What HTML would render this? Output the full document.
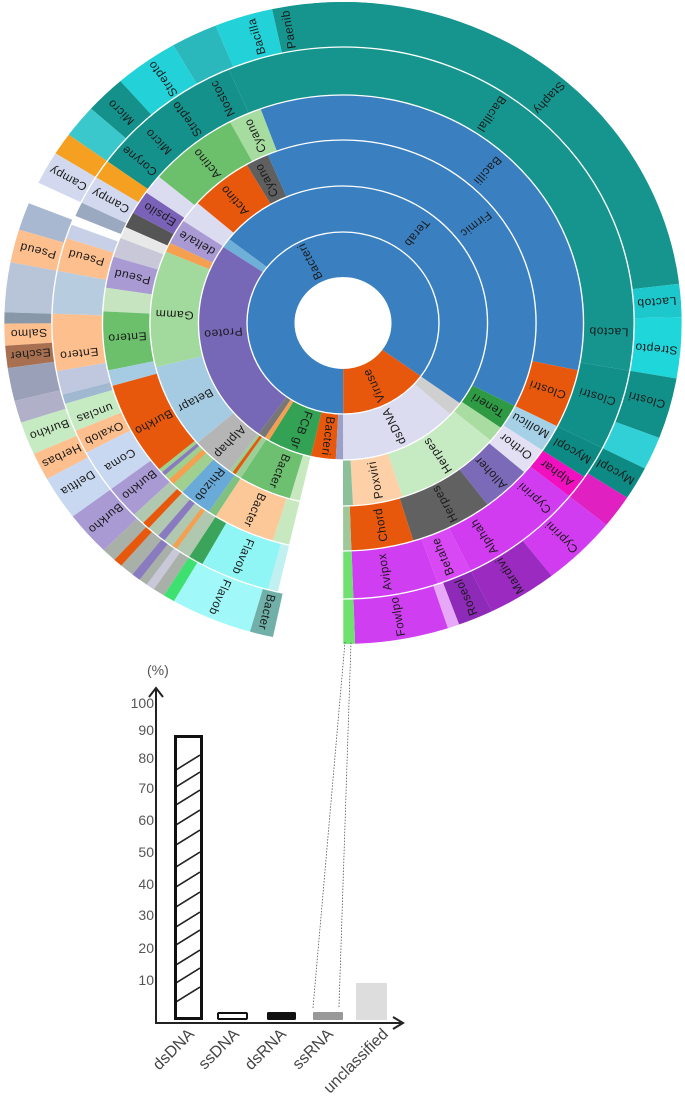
<!DOCTYPE html>
<html><head><meta charset="utf-8"><style>
html,body{margin:0;padding:0;background:#fff;}
svg{display:block;}
circle{fill:none;}
.l{font-family:"Liberation Sans",sans-serif;font-size:11.5px;fill:#1a1a1a;text-anchor:middle;dominant-baseline:central;letter-spacing:0.5px;}
.t{font-family:"Liberation Sans",sans-serif;font-size:14px;fill:#555;}
.x{font-family:"Liberation Sans",sans-serif;font-size:16px;fill:#444;text-anchor:end;}
</style></head><body>
<svg width="685" height="1099" viewBox="0 0 685 1099" xmlns="http://www.w3.org/2000/svg">
<g transform="translate(343,323) scale(1.055,1) rotate(-90)">
<!-- ring0 -->
<g stroke-width="45">
<circle r="68.5" pathLength="360" stroke="#3a80c0" stroke-dasharray="180 1000" stroke-dashoffset="-180"/>
<circle r="68.5" pathLength="360" stroke="#3a80c0" stroke-dasharray="126 1000" stroke-dashoffset="0"/>
<circle r="68.5" pathLength="360" stroke="#e8580c" stroke-dasharray="54 1000" stroke-dashoffset="-126"/>
</g>
<!-- ring1 -->
<g stroke-width="46">
<circle r="114" pathLength="360" stroke="#3a80c0" stroke-dasharray="52 1000" stroke-dashoffset="-308"/>
<circle r="114" pathLength="360" stroke="#3a80c0" stroke-dasharray="126 1000" stroke-dashoffset="0"/>
<circle r="114" pathLength="360" stroke="#6fb0d8" stroke-dasharray="4 1000" stroke-dashoffset="-304"/>
<circle r="114" pathLength="360" stroke="#7767b7" stroke-dasharray="88 1000" stroke-dashoffset="-216"/>
<circle r="114" pathLength="360" stroke="#777" stroke-dasharray="3 1000" stroke-dashoffset="-213"/>
<circle r="114" pathLength="360" stroke="#f4a050" stroke-dasharray="2 1000" stroke-dashoffset="-211"/>
<circle r="114" pathLength="360" stroke="#33a254" stroke-dasharray="18 1000" stroke-dashoffset="-193"/>
<circle r="114" pathLength="360" stroke="#e8580c" stroke-dasharray="10 1000" stroke-dashoffset="-183"/>
<circle r="114" pathLength="360" stroke="#9aa0c8" stroke-dasharray="3 1000" stroke-dashoffset="-180"/>
<circle r="114" pathLength="360" stroke="#dcdcf0" stroke-dasharray="48 1000" stroke-dashoffset="-132"/>
<circle r="114" pathLength="360" stroke="#cfcfcf" stroke-dasharray="6 1000" stroke-dashoffset="-126"/>
</g>
<!-- ring2 -->
<g stroke-width="46">
<circle r="160" pathLength="360" stroke="#3a80c0" stroke-dasharray="23 1000" stroke-dashoffset="-337"/>
<circle r="160" pathLength="360" stroke="#3a80c0" stroke-dasharray="117 1000" stroke-dashoffset="0"/>
<circle r="160" pathLength="360" stroke="#2e9a44" stroke-dasharray="8 1000" stroke-dashoffset="-117"/>
<circle r="160" pathLength="360" stroke="#a8dca0" stroke-dasharray="5 1000" stroke-dashoffset="-125"/>
<circle r="160" pathLength="360" stroke="#c6eac2" stroke-dasharray="32 1000" stroke-dashoffset="-130"/>
<circle r="160" pathLength="360" stroke="#fdd0a8" stroke-dasharray="15 1000" stroke-dashoffset="-162"/>
<circle r="160" pathLength="360" stroke="#8cc09a" stroke-dasharray="3 1000" stroke-dashoffset="-177"/>
<circle r="160" pathLength="360" stroke="#5f5f5f" stroke-dasharray="7 1000" stroke-dashoffset="-330"/>
<circle r="160" pathLength="360" stroke="#e8580c" stroke-dasharray="19 1000" stroke-dashoffset="-311"/>
<circle r="160" pathLength="360" stroke="#dcdcf0" stroke-dasharray="7 1000" stroke-dashoffset="-304"/>
<circle r="160" pathLength="360" stroke="#a99ad4" stroke-dasharray="8 1000" stroke-dashoffset="-296"/>
<circle r="160" pathLength="360" stroke="#f4a050" stroke-dasharray="3 1000" stroke-dashoffset="-293"/>
<circle r="160" pathLength="360" stroke="#a2d99c" stroke-dasharray="37 1000" stroke-dashoffset="-256"/>
<circle r="160" pathLength="360" stroke="#a5cbe3" stroke-dasharray="27 1000" stroke-dashoffset="-229"/>
<circle r="160" pathLength="360" stroke="#b5b5b5" stroke-dasharray="13 1000" stroke-dashoffset="-216"/>
<circle r="160" pathLength="360" stroke="#9ccf98" stroke-dasharray="4 1000" stroke-dashoffset="-212"/>
<circle r="160" pathLength="360" stroke="#e8580c" stroke-dasharray="1 1000" stroke-dashoffset="-214"/>
<circle r="160" pathLength="360" stroke="#6cc070" stroke-dasharray="16 1000" stroke-dashoffset="-196"/>
<circle r="160" pathLength="360" stroke="#c8e8c0" stroke-dasharray="3 1000" stroke-dashoffset="-193"/>
</g>
<!-- ring3 -->
<g stroke-width="45">
<circle r="205.5" pathLength="360" stroke="#3a80c0" stroke-dasharray="20 1000" stroke-dashoffset="-340"/>
<circle r="205.5" pathLength="360" stroke="#3a80c0" stroke-dasharray="102 1000" stroke-dashoffset="0"/>
<circle r="205.5" pathLength="360" stroke="#e8580c" stroke-dasharray="15 1000" stroke-dashoffset="-102"/>
<circle r="205.5" pathLength="360" stroke="#a6d0e6" stroke-dasharray="7 1000" stroke-dashoffset="-117"/>
<circle r="205.5" pathLength="360" stroke="#e4e0f4" stroke-dasharray="7 1000" stroke-dashoffset="-124"/>
<circle r="205.5" pathLength="360" stroke="#7a6ab8" stroke-dasharray="12 1000" stroke-dashoffset="-131"/>
<circle r="205.5" pathLength="360" stroke="#616161" stroke-dasharray="20 1000" stroke-dashoffset="-143"/>
<circle r="205.5" pathLength="360" stroke="#e8580c" stroke-dasharray="15 1000" stroke-dashoffset="-163"/>
<circle r="205.5" pathLength="360" stroke="#9ec89a" stroke-dasharray="2 1000" stroke-dashoffset="-178"/>
<circle r="205.5" pathLength="360" stroke="#a6dca0" stroke-dasharray="8 1000" stroke-dashoffset="-332"/>
<circle r="205.5" pathLength="360" stroke="#6cc06c" stroke-dasharray="22 1000" stroke-dashoffset="-310"/>
<circle r="205.5" pathLength="360" stroke="#dcdcf0" stroke-dasharray="5 1000" stroke-dashoffset="-305"/>
<circle r="205.5" pathLength="360" stroke="#7a62b8" stroke-dasharray="6 1000" stroke-dashoffset="-299"/>
<circle r="205.5" pathLength="360" stroke="#555" stroke-dasharray="4 1000" stroke-dashoffset="-295"/>
<circle r="205.5" pathLength="360" stroke="#e8e8e8" stroke-dasharray="3 1000" stroke-dashoffset="-292"/>
<circle r="205.5" pathLength="360" stroke="#c8c8d8" stroke-dasharray="5 1000" stroke-dashoffset="-287"/>
<circle r="205.5" pathLength="360" stroke="#a99ad4" stroke-dasharray="8 1000" stroke-dashoffset="-279"/>
<circle r="205.5" pathLength="360" stroke="#c6e4c0" stroke-dasharray="6 1000" stroke-dashoffset="-273"/>
<circle r="205.5" pathLength="360" stroke="#6cc06c" stroke-dasharray="15 1000" stroke-dashoffset="-258"/>
<circle r="205.5" pathLength="360" stroke="#a6cce4" stroke-dasharray="4 1000" stroke-dashoffset="-254"/>
<circle r="205.5" pathLength="360" stroke="#e8580c" stroke-dasharray="24 1000" stroke-dashoffset="-230"/>
<circle r="205.5" pathLength="360" stroke="#a0d090" stroke-dasharray="8 1000" stroke-dashoffset="-222"/>
<circle r="205.5" pathLength="360" stroke="#f4a050" stroke-dasharray="1.5 1000" stroke-dashoffset="-225"/>
<circle r="205.5" pathLength="360" stroke="#8a7ac0" stroke-dasharray="1 1000" stroke-dashoffset="-228"/>
<circle r="205.5" pathLength="360" stroke="#6aaad8" stroke-dasharray="8 1000" stroke-dashoffset="-214"/>
<circle r="205.5" pathLength="360" stroke="#80c080" stroke-dasharray="2 1000" stroke-dashoffset="-212"/>
<circle r="205.5" pathLength="360" stroke="#fdc898" stroke-dasharray="15 1000" stroke-dashoffset="-197"/>
<circle r="205.5" pathLength="360" stroke="#c8e8c0" stroke-dasharray="4 1000" stroke-dashoffset="-193"/>
</g>
<!-- ring4 -->
<g stroke-width="48">
<circle r="252" pathLength="360" stroke="#15958e" stroke-dasharray="23 1000" stroke-dashoffset="-337"/>
<circle r="252" pathLength="360" stroke="#15958e" stroke-dasharray="100 1000" stroke-dashoffset="0"/>
<circle r="252" pathLength="360" stroke="#109088" stroke-dasharray="17 1000" stroke-dashoffset="-100"/>
<circle r="252" pathLength="360" stroke="#0e8a84" stroke-dasharray="7 1000" stroke-dashoffset="-117"/>
<circle r="252" pathLength="360" stroke="#f010c0" stroke-dasharray="5 1000" stroke-dashoffset="-124"/>
<circle r="252" pathLength="360" stroke="#d23cf0" stroke-dasharray="25 1000" stroke-dashoffset="-129"/>
<circle r="252" pathLength="360" stroke="#d848f4" stroke-dasharray="7 1000" stroke-dashoffset="-154"/>
<circle r="252" pathLength="360" stroke="#d03ef2" stroke-dasharray="17 1000" stroke-dashoffset="-161"/>
<circle r="252" pathLength="360" stroke="#70e070" stroke-dasharray="2 1000" stroke-dashoffset="-178"/>
<circle r="252" pathLength="360" stroke="#14918b" stroke-dasharray="31 1000" stroke-dashoffset="-306"/>
<circle r="252" pathLength="360" stroke="#f5a020" stroke-dasharray="4 1000" stroke-dashoffset="-302"/>
<circle r="252" pathLength="360" stroke="#d2d9ee" stroke-dasharray="6 1000" stroke-dashoffset="-296"/>
<circle r="252" pathLength="360" stroke="#9aa8c0" stroke-dasharray="3 1000" stroke-dashoffset="-293"/>
<circle r="252" pathLength="360" stroke="#c8d0e8" stroke-dasharray="3 1000" stroke-dashoffset="-288"/>
<circle r="252" pathLength="360" stroke="#fdbf8e" stroke-dasharray="7 1000" stroke-dashoffset="-281"/>
<circle r="252" pathLength="360" stroke="#b8cce0" stroke-dasharray="9 1000" stroke-dashoffset="-272"/>
<circle r="252" pathLength="360" stroke="#fdbf8e" stroke-dasharray="12 1000" stroke-dashoffset="-260"/>
<circle r="252" pathLength="360" stroke="#c0c8e0" stroke-dasharray="5 1000" stroke-dashoffset="-255"/>
<circle r="252" pathLength="360" stroke="#a0b8d0" stroke-dasharray="2 1000" stroke-dashoffset="-253"/>
<circle r="252" pathLength="360" stroke="#c6eac2" stroke-dasharray="6 1000" stroke-dashoffset="-247"/>
<circle r="252" pathLength="360" stroke="#fdbf8e" stroke-dasharray="5 1000" stroke-dashoffset="-242"/>
<circle r="252" pathLength="360" stroke="#c8d8f0" stroke-dasharray="9 1000" stroke-dashoffset="-233"/>
<circle r="252" pathLength="360" stroke="#a99ad4" stroke-dasharray="7 1000" stroke-dashoffset="-226"/>
<circle r="252" pathLength="360" stroke="#b0c8b0" stroke-dasharray="14 1000" stroke-dashoffset="-212"/>
<circle r="252" pathLength="360" stroke="#e8580c" stroke-dasharray="1.5 1000" stroke-dashoffset="-222"/>
<circle r="252" pathLength="360" stroke="#8a7ac0" stroke-dasharray="1.5 1000" stroke-dashoffset="-218"/>
<circle r="252" pathLength="360" stroke="#f4a050" stroke-dasharray="1 1000" stroke-dashoffset="-215"/>
<circle r="252" pathLength="360" stroke="#3aa55a" stroke-dasharray="3 1000" stroke-dashoffset="-209"/>
<circle r="252" pathLength="360" stroke="#8ff5f5" stroke-dasharray="14 1000" stroke-dashoffset="-195"/>
<circle r="252" pathLength="360" stroke="#c0f0f0" stroke-dasharray="2 1000" stroke-dashoffset="-193"/>
</g>
<!-- ring5 -->
<g stroke-width="45">
<circle r="298.5" pathLength="360" stroke="#15958e" stroke-dasharray="12 1000" stroke-dashoffset="-348"/>
<circle r="298.5" pathLength="360" stroke="#15958e" stroke-dasharray="83 1000" stroke-dashoffset="0"/>
<circle r="298.5" pathLength="360" stroke="#1cc8cc" stroke-dasharray="6 1000" stroke-dashoffset="-83"/>
<circle r="298.5" pathLength="360" stroke="#1fd6da" stroke-dasharray="11 1000" stroke-dashoffset="-89"/>
<circle r="298.5" pathLength="360" stroke="#109088" stroke-dasharray="11 1000" stroke-dashoffset="-100"/>
<circle r="298.5" pathLength="360" stroke="#30d0d6" stroke-dasharray="6 1000" stroke-dashoffset="-111"/>
<circle r="298.5" pathLength="360" stroke="#0e8a84" stroke-dasharray="6 1000" stroke-dashoffset="-117"/>
<circle r="298.5" pathLength="360" stroke="#e020c0" stroke-dasharray="6 1000" stroke-dashoffset="-123"/>
<circle r="298.5" pathLength="360" stroke="#d23cf0" stroke-dasharray="13 1000" stroke-dashoffset="-129"/>
<circle r="298.5" pathLength="360" stroke="#9a2ac0" stroke-dasharray="12 1000" stroke-dashoffset="-142"/>
<circle r="298.5" pathLength="360" stroke="#8e2ab8" stroke-dasharray="6 1000" stroke-dashoffset="-154"/>
<circle r="298.5" pathLength="360" stroke="#e8a8f8" stroke-dasharray="2 1000" stroke-dashoffset="-160"/>
<circle r="298.5" pathLength="360" stroke="#d03ef2" stroke-dasharray="16 1000" stroke-dashoffset="-162"/>
<circle r="298.5" pathLength="360" stroke="#70e070" stroke-dasharray="2 1000" stroke-dashoffset="-178"/>
<circle r="298.5" pathLength="360" stroke="#22d2d8" stroke-dasharray="10 1000" stroke-dashoffset="-338"/>
<circle r="298.5" pathLength="360" stroke="#2bb8bc" stroke-dasharray="8 1000" stroke-dashoffset="-330"/>
<circle r="298.5" pathLength="360" stroke="#22d2d8" stroke-dasharray="11 1000" stroke-dashoffset="-319"/>
<circle r="298.5" pathLength="360" stroke="#14918b" stroke-dasharray="7 1000" stroke-dashoffset="-312"/>
<circle r="298.5" pathLength="360" stroke="#3ac8cc" stroke-dasharray="6 1000" stroke-dashoffset="-306"/>
<circle r="298.5" pathLength="360" stroke="#f5a020" stroke-dasharray="4 1000" stroke-dashoffset="-302"/>
<circle r="298.5" pathLength="360" stroke="#d2d9ee" stroke-dasharray="6 1000" stroke-dashoffset="-296"/>
<circle r="298.5" pathLength="360" stroke="#a8b8d0" stroke-dasharray="5 1000" stroke-dashoffset="-287"/>
<circle r="298.5" pathLength="360" stroke="#fdbf8e" stroke-dasharray="6 1000" stroke-dashoffset="-281"/>
<circle r="298.5" pathLength="360" stroke="#b8c4d8" stroke-dasharray="9 1000" stroke-dashoffset="-272"/>
<circle r="298.5" pathLength="360" stroke="#8898a8" stroke-dasharray="2 1000" stroke-dashoffset="-270"/>
<circle r="298.5" pathLength="360" stroke="#fdbf8e" stroke-dasharray="4 1000" stroke-dashoffset="-266"/>
<circle r="298.5" pathLength="360" stroke="#a87050" stroke-dasharray="4 1000" stroke-dashoffset="-262"/>
<circle r="298.5" pathLength="360" stroke="#9aa0b8" stroke-dasharray="6 1000" stroke-dashoffset="-256"/>
<circle r="298.5" pathLength="360" stroke="#b0b0c8" stroke-dasharray="4 1000" stroke-dashoffset="-252"/>
<circle r="298.5" pathLength="360" stroke="#c6eac2" stroke-dasharray="6 1000" stroke-dashoffset="-246"/>
<circle r="298.5" pathLength="360" stroke="#fdbf8e" stroke-dasharray="5 1000" stroke-dashoffset="-241"/>
<circle r="298.5" pathLength="360" stroke="#c8d8f0" stroke-dasharray="8 1000" stroke-dashoffset="-233"/>
<circle r="298.5" pathLength="360" stroke="#a99ad4" stroke-dasharray="8 1000" stroke-dashoffset="-225"/>
<circle r="298.5" pathLength="360" stroke="#a8b0a8" stroke-dasharray="13 1000" stroke-dashoffset="-212"/>
<circle r="298.5" pathLength="360" stroke="#e8580c" stroke-dasharray="1.5 1000" stroke-dashoffset="-221"/>
<circle r="298.5" pathLength="360" stroke="#8a7ac0" stroke-dasharray="1.5 1000" stroke-dashoffset="-217"/>
<circle r="298.5" pathLength="360" stroke="#c8c8d8" stroke-dasharray="1.5 1000" stroke-dashoffset="-214"/>
<circle r="298.5" pathLength="360" stroke="#3ee070" stroke-dasharray="2 1000" stroke-dashoffset="-210"/>
<circle r="298.5" pathLength="360" stroke="#a0f8f8" stroke-dasharray="14 1000" stroke-dashoffset="-196"/>
<circle r="298.5" pathLength="360" stroke="#70b0a8" stroke-dasharray="4 1000" stroke-dashoffset="-192"/>
</g>
<!-- seam covers around angle 0 -->
<g transform="rotate(180)">
<circle r="68.5" stroke-width="45" pathLength="360" stroke="#3a80c0" stroke-dasharray="10 1000" stroke-dashoffset="-175"/>
<circle r="114" stroke-width="46" pathLength="360" stroke="#3a80c0" stroke-dasharray="10 1000" stroke-dashoffset="-175"/>
<circle r="160" stroke-width="46" pathLength="360" stroke="#3a80c0" stroke-dasharray="10 1000" stroke-dashoffset="-175"/>
<circle r="205.5" stroke-width="45" pathLength="360" stroke="#3a80c0" stroke-dasharray="10 1000" stroke-dashoffset="-175"/>
<circle r="252" stroke-width="48" pathLength="360" stroke="#15958e" stroke-dasharray="10 1000" stroke-dashoffset="-175"/>
<circle r="298.5" stroke-width="45" pathLength="360" stroke="#15958e" stroke-dasharray="10 1000" stroke-dashoffset="-175"/>
</g>
<g stroke="#fff" stroke-width="1.3">
<circle r="91"/><circle r="137"/><circle r="183"/><circle r="228"/><circle r="276"/>
</g>
</g>
<g transform="translate(343,323) scale(1.055,1)">
<text class="l" transform="rotate(333) translate(0,-69) rotate(-90)">Bacteri</text>
<text class="l" transform="rotate(155) translate(0,-69) rotate(90)">Viruse</text>
<text class="l" transform="rotate(38) translate(0,-114) rotate(90)">Terab</text>
<text class="l" transform="rotate(265) translate(0,-114) rotate(-90)">Proteo</text>
<text class="l" transform="rotate(200) translate(0,-114) rotate(-90)">FCB gr</text>
<text class="l" transform="rotate(187) translate(0,-114) rotate(-90)">Bacteri</text>
<text class="l" transform="rotate(155) translate(0,-114) rotate(90)">dsDNA</text>
<text class="l" transform="rotate(52) translate(0,-160) rotate(90)">Firmic</text>
<text class="l" transform="rotate(333) translate(0,-160) rotate(-90)">Cyano</text>
<text class="l" transform="rotate(320) translate(0,-160) rotate(-90)">Actino</text>
<text class="l" transform="rotate(300) translate(0,-160) rotate(-90)">delta/e</text>
<text class="l" transform="rotate(273) translate(0,-160) rotate(-90)">Gamm</text>
<text class="l" transform="rotate(241) translate(0,-160) rotate(-90)">Betapr</text>
<text class="l" transform="rotate(222) translate(0,-160) rotate(-90)">Alphap</text>
<text class="l" transform="rotate(202) translate(0,-160) rotate(-90)">Bacter</text>
<text class="l" transform="rotate(146) translate(0,-160) rotate(90)">Herpes</text>
<text class="l" transform="rotate(169) translate(0,-160) rotate(90)">Poxviri</text>
<text class="l" transform="rotate(121) translate(0,-160) rotate(90)">Teneri</text>
<text class="l" transform="rotate(42) translate(0,-205) rotate(90)">Bacilli</text>
<text class="l" transform="rotate(336) translate(0,-205) rotate(-90)">Cyano</text>
<text class="l" transform="rotate(321) translate(0,-205) rotate(-90)">Actino</text>
<text class="l" transform="rotate(302) translate(0,-205) rotate(-90)">Epsilo</text>
<text class="l" transform="rotate(283) translate(0,-205) rotate(-90)">Pseud</text>
<text class="l" transform="rotate(266) translate(0,-205) rotate(-90)">Entero</text>
<text class="l" transform="rotate(241) translate(0,-205) rotate(-90)">Burkho</text>
<text class="l" transform="rotate(218) translate(0,-205) rotate(-90)">Rhizob</text>
<text class="l" transform="rotate(204) translate(0,-205) rotate(-90)">Bacter</text>
<text class="l" transform="rotate(109) translate(0,-205) rotate(90)">Clostri</text>
<text class="l" transform="rotate(120) translate(0,-205) rotate(90)">Mollicu</text>
<text class="l" transform="rotate(127) translate(0,-205) rotate(90)">Orthor</text>
<text class="l" transform="rotate(137) translate(0,-205) rotate(90)">Alloher</text>
<text class="l" transform="rotate(152) translate(0,-205) rotate(90)">Herpes</text>
<text class="l" transform="rotate(170) translate(0,-205) rotate(90)">Chord</text>
<text class="l" transform="rotate(34) translate(0,-252) rotate(90)">Bacillal</text>
<text class="l" transform="rotate(333) translate(0,-252) rotate(-90)">Nostoc</text>
<text class="l" transform="rotate(324) translate(0,-252) rotate(-90)">Strepto</text>
<text class="l" transform="rotate(316) translate(0,-252) rotate(-90)">Micro</text>
<text class="l" transform="rotate(310) translate(0,-252) rotate(-90)">Coryne</text>
<text class="l" transform="rotate(299) translate(0,-252) rotate(-90)">Campy</text>
<text class="l" transform="rotate(285) translate(0,-252) rotate(-90)">Pseud</text>
<text class="l" transform="rotate(263) translate(0,-252) rotate(-90)">Entero</text>
<text class="l" transform="rotate(249) translate(0,-252) rotate(-90)">unclas</text>
<text class="l" transform="rotate(244) translate(0,-252) rotate(-90)">Oxalob</text>
<text class="l" transform="rotate(237) translate(0,-252) rotate(-90)">Coma</text>
<text class="l" transform="rotate(230) translate(0,-252) rotate(-90)">Burkho</text>
<text class="l" transform="rotate(202) translate(0,-252) rotate(-90)">Flavob</text>
<text class="l" transform="rotate(92) translate(0,-252) rotate(90)">Lactob</text>
<text class="l" transform="rotate(107) translate(0,-252) rotate(90)">Clostri</text>
<text class="l" transform="rotate(120.5) translate(0,-252) rotate(90)">Mycopl</text>
<text class="l" transform="rotate(126.5) translate(0,-252) rotate(90)">Alphar</text>
<text class="l" transform="rotate(134) translate(0,-252) rotate(90)">Cyprini</text>
<text class="l" transform="rotate(148) translate(0,-252) rotate(90)">Alphah</text>
<text class="l" transform="rotate(158) translate(0,-252) rotate(90)">Betahe</text>
<text class="l" transform="rotate(171) translate(0,-252) rotate(90)">Avipox</text>
<text class="l" transform="rotate(41) translate(0,-298) rotate(90)">Staphy</text>
<text class="l" transform="rotate(344) translate(0,-298) rotate(-90)">Bacilla</text>
<text class="l" transform="rotate(350) translate(0,-298) rotate(-90)">Paenib</text>
<text class="l" transform="rotate(325) translate(0,-298) rotate(-90)">Strepto</text>
<text class="l" transform="rotate(315) translate(0,-298) rotate(-90)">Micro</text>
<text class="l" transform="rotate(299) translate(0,-298) rotate(-90)">Campy</text>
<text class="l" transform="rotate(284) translate(0,-298) rotate(-90)">Pseud</text>
<text class="l" transform="rotate(268) translate(0,-298) rotate(-90)">Salmo</text>
<text class="l" transform="rotate(264) translate(0,-298) rotate(-90)">Escher</text>
<text class="l" transform="rotate(249) translate(0,-298) rotate(-90)">Burkho</text>
<text class="l" transform="rotate(243.5) translate(0,-298) rotate(-90)">Herbas</text>
<text class="l" transform="rotate(237.5) translate(0,-298) rotate(-90)">Delftia</text>
<text class="l" transform="rotate(229) translate(0,-298) rotate(-90)">Burkho</text>
<text class="l" transform="rotate(203) translate(0,-298) rotate(-90)">Flavob</text>
<text class="l" transform="rotate(194) translate(0,-298) rotate(-90)">Bacter</text>
<text class="l" transform="rotate(86) translate(0,-298) rotate(90)">Lactob</text>
<text class="l" transform="rotate(95) translate(0,-298) rotate(90)">Strepto</text>
<text class="l" transform="rotate(105) translate(0,-298) rotate(90)">Clostri</text>
<text class="l" transform="rotate(120) translate(0,-298) rotate(90)">Mycopl</text>
<text class="l" transform="rotate(136) translate(0,-298) rotate(90)">Cyprini</text>
<text class="l" transform="rotate(148) translate(0,-298) rotate(90)">Mardivi</text>
<text class="l" transform="rotate(157) translate(0,-298) rotate(90)">Roseol</text>
<text class="l" transform="rotate(170) translate(0,-298) rotate(90)">Fowlpo</text>
</g>

<!-- dotted connectors -->
<line x1="313" y1="1008" x2="345" y2="642" stroke="#555" stroke-width="0.8" stroke-dasharray="1.5 1.5"/>
<line x1="339" y1="1007" x2="351" y2="642" stroke="#555" stroke-width="0.8" stroke-dasharray="1.5 1.5"/>

<!-- bar chart axes -->
<g stroke="#222" stroke-width="2" fill="none">
<line x1="156" y1="688" x2="156" y2="1024"/>
<line x1="155" y1="1023" x2="403" y2="1023"/>
<polyline points="149,697 156,688 163,697"/>
<polyline points="393,1017 403,1023 393,1029"/>
</g>
<text class="t" x="147" y="675">(%)</text>
<g class="t" text-anchor="end">
<text x="154" y="708">100</text>
<text x="154" y="735">90</text>
<text x="154" y="763">80</text>
<text x="154" y="793">70</text>
<text x="154" y="825">60</text>
<text x="154" y="857">50</text>
<text x="154" y="889">40</text>
<text x="154" y="920">30</text>
<text x="154" y="953">20</text>
<text x="154" y="985">10</text>
</g>
<defs><clipPath id="cb"><rect x="176" y="738" width="24" height="279"/></clipPath></defs>
<g clip-path="url(#cb)" stroke="#222" stroke-width="1.6">
<line x1="176" y1="770" x2="200" y2="755"/>
<line x1="176" y1="787" x2="200" y2="772"/>
<line x1="176" y1="805" x2="200" y2="790"/>
<line x1="176" y1="825" x2="200" y2="810"/>
<line x1="176" y1="845" x2="200" y2="830"/>
<line x1="176" y1="867" x2="200" y2="852"/>
<line x1="176" y1="887" x2="200" y2="872"/>
<line x1="176" y1="907" x2="200" y2="892"/>
<line x1="176" y1="927" x2="200" y2="912"/>
<line x1="176" y1="945" x2="200" y2="930"/>
<line x1="176" y1="965" x2="200" y2="950"/>
<line x1="176" y1="983" x2="200" y2="968"/>
<line x1="176" y1="1002" x2="200" y2="987"/>
</g>
<rect x="175.5" y="736.5" width="26" height="282" fill="none" stroke="#111" stroke-width="3"/>
<rect x="218" y="1013" width="29" height="6" rx="1" fill="#fff" stroke="#111" stroke-width="2"/>
<rect x="267" y="1012" width="29" height="8" rx="1.5" fill="#111"/>
<rect x="313" y="1012" width="30" height="8" rx="1" fill="#999"/>
<rect x="356" y="983" width="31" height="37" fill="#ddd"/>
<g class="x">
<text transform="translate(195,1035) rotate(-45)">dsDNA</text>
<text transform="translate(240,1035) rotate(-45)">ssDNA</text>
<text transform="translate(287,1035) rotate(-45)">dsRNA</text>
<text transform="translate(334,1035) rotate(-45)">ssRNA</text>
<text transform="translate(389,1035) rotate(-45)">unclassified</text>
</g>
</svg>
</body></html>
